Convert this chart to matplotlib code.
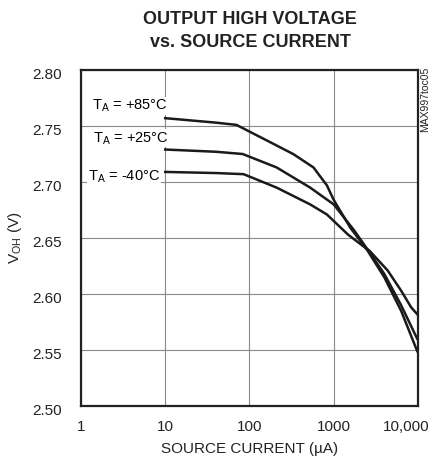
import matplotlib
matplotlib.use("Agg")
import matplotlib.pyplot as plt
from matplotlib.transforms import ScaledTranslation

plt.rcParams["font.family"] = ["Liberation Sans Narrow", "Liberation Sans", "DejaVu Sans"]

# source current (uA) and output high voltage (V)
i_85 = [10, 40, 70, 135, 330, 575, 830, 1000, 1580, 2510, 3980, 6310, 9800]
v_85 = [2.757, 2.753, 2.751, 2.740, 2.725, 2.713, 2.697, 2.684, 2.659, 2.639, 2.615, 2.585, 2.549]

i_25 = [10, 40, 83, 210, 525, 1000, 1740, 2400, 3980, 6310, 9800]
v_25 = [2.729, 2.727, 2.725, 2.713, 2.695, 2.680, 2.657, 2.642, 2.618, 2.590, 2.560]

i_m40 = [10, 40, 85, 210, 525, 830, 1480, 2400, 2630, 4370, 6310, 8320, 9800]
v_m40 = [2.709, 2.708, 2.707, 2.695, 2.680, 2.671, 2.653, 2.641, 2.639, 2.621, 2.603, 2.588, 2.582]

labels = ["T$_\\mathregular{A}$ = +85°C", "T$_\\mathregular{A}$ = +25°C", "T$_\\mathregular{A}$ = -40°C"]
yticks = [2.50, 2.55, 2.60, 2.65, 2.70, 2.75, 2.80]
xticks = [1, 10, 100, 1000, 10000]
xticklabels = ["1", "10", "100", "1000", "10,000"]

fig = plt.figure(figsize=(4.30, 4.67), dpi=100)
ax = fig.add_axes([0.1884, 0.1306, 0.7836, 0.7195])

for xs, ys in [(i_85, v_85), (i_25, v_25), (i_m40, v_m40)]:
    ax.plot(xs, ys, color="#1a1a1a", lw=1.8, solid_joinstyle="round", zorder=5)

ax.set_xscale("log")
ax.set_xlim(1, 10000)
ax.set_ylim(2.50, 2.80)
ax.set_xticks(xticks)
ax.set_xticklabels(xticklabels)
ax.minorticks_off()
ax.set_yticks(yticks)
ax.set_yticklabels([f"{t:.2f}" for t in yticks])
ax.tick_params(axis="y", length=0, labelsize=11, colors="#222222", pad=14)
ax.tick_params(axis="x", length=0, labelsize=11, colors="#222222", pad=10)

# y labels sit a little below their grid lines, last x label kept inside the figure
down = ScaledTranslation(0, -3 / 100, fig.dpi_scale_trans)
for lab in ax.get_yticklabels():
    lab.set_transform(lab.get_transform() + down)
last = ax.get_xticklabels()[-1]
last.set_ha("right")
last.set_transform(last.get_transform() + ScaledTranslation(12 / 100, 0, fig.dpi_scale_trans))

ax.grid(True, color="#888888", lw=0.8, zorder=1)
for s in ax.spines.values():
    s.set_linewidth(1.6)
    s.set_color("#222222")
    s.set_zorder(6)

box = dict(facecolor="white", edgecolor="none", pad=0.5)
ax.text(1.35, 2.768, labels[0], fontsize=10.5, ha="left", va="center", bbox=box, zorder=4)
ax.text(1.39, 2.739, labels[1], fontsize=10.5, ha="left", va="center", bbox=box, zorder=4)
ax.text(1.21, 2.705, labels[2], fontsize=10.5, ha="left", va="center", bbox=box, zorder=4)

ax.set_xlabel("SOURCE CURRENT (µA)", fontsize=11, color="#222222", labelpad=6)
ax.set_ylabel("V$_\\mathregular{OH}$ (V)", fontsize=11, color="#222222", labelpad=6)

fig.text(0.582, 0.958, "OUTPUT HIGH VOLTAGE", fontsize=13, fontweight="bold",
         ha="center", va="center", color="#222222")
fig.text(0.582, 0.908, "vs. SOURCE CURRENT", fontsize=13, fontweight="bold",
         ha="center", va="center", color="#222222")
fig.text(0.988, 0.857, "MAX997toc05", fontsize=7.5, rotation=90, ha="center", va="top",
         color="#222222")

fig.savefig("out.png", dpi=100)
